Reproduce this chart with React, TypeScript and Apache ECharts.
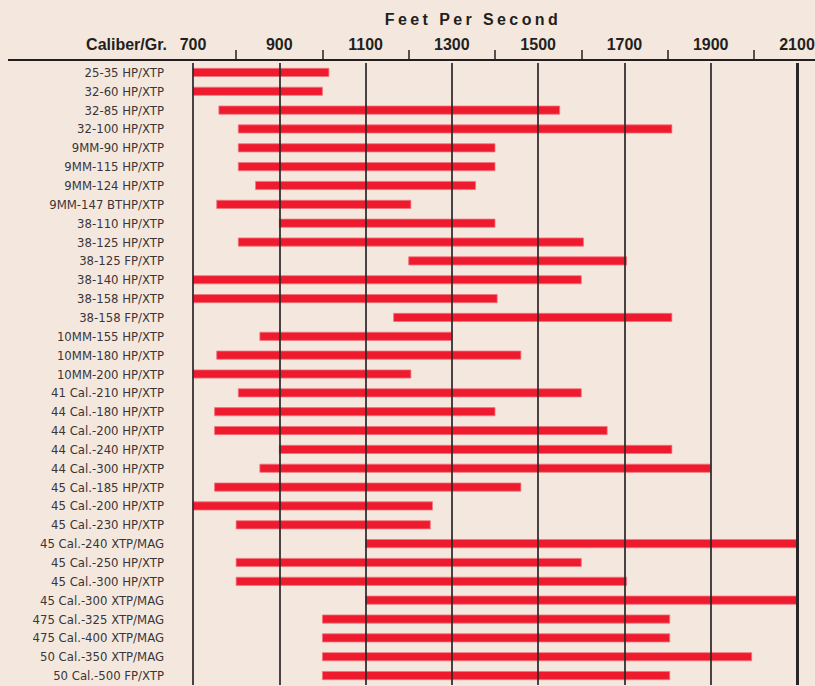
import React, { useEffect, useRef } from "react";
import * as echarts from "echarts";

const categories = [
  "25-35 HP/XTP",
  "32-60 HP/XTP",
  "32-85 HP/XTP",
  "32-100 HP/XTP",
  "9MM-90 HP/XTP",
  "9MM-115 HP/XTP",
  "9MM-124 HP/XTP",
  "9MM-147 BTHP/XTP",
  "38-110 HP/XTP",
  "38-125 HP/XTP",
  "38-125 FP/XTP",
  "38-140 HP/XTP",
  "38-158 HP/XTP",
  "38-158 FP/XTP",
  "10MM-155 HP/XTP",
  "10MM-180 HP/XTP",
  "10MM-200 HP/XTP",
  "41 Cal.-210 HP/XTP",
  "44 Cal.-180 HP/XTP",
  "44 Cal.-200 HP/XTP",
  "44 Cal.-240 HP/XTP",
  "44 Cal.-300 HP/XTP",
  "45 Cal.-185 HP/XTP",
  "45 Cal.-200 HP/XTP",
  "45 Cal.-230 HP/XTP",
  "45 Cal.-240 XTP/MAG",
  "45 Cal.-250 HP/XTP",
  "45 Cal.-300 HP/XTP",
  "45 Cal.-300 XTP/MAG",
  "475 Cal.-325 XTP/MAG",
  "475 Cal.-400 XTP/MAG",
  "50 Cal.-350 XTP/MAG",
  "50 Cal.-500 FP/XTP",
];

const minFps = [
  700, 700, 760, 805, 805, 805, 845, 755, 900, 805, 1200, 700, 700, 1165, 855,
  755, 700, 805, 750, 750, 900, 855, 750, 700, 800, 1100, 800, 800, 1100, 1000,
  1000, 1000, 1000,
];

const maxFps = [
  1015, 1000, 1550, 1810, 1400, 1400, 1355, 1205, 1400, 1605, 1705, 1600, 1405,
  1810, 1300, 1460, 1205, 1600, 1400, 1660, 1810, 1900, 1460, 1255, 1250, 2100,
  1600, 1705, 2100, 1805, 1805, 1995, 1805,
];

const axisTitle = "Feet Per Second";
const rowHeader = "Caliber/Gr.";
const axisMin = 700;
const axisMax = 2100;

const INK = "#231f20";
const ROW_FONT = "'DejaVu Sans Condensed', 'Liberation Sans Narrow', sans-serif";
const HEAD_FONT = "'Liberation Sans', Arial, sans-serif";

export default function App() {
  const ref = useRef<HTMLDivElement>(null);

  useEffect(() => {
    if (!ref.current) return;
    const chart = echarts.init(ref.current, undefined, { renderer: "svg" });
    const data = categories.map((c, i) => [i, minFps[i], maxFps[i]]);

    chart.setOption({
      animation: false,
      backgroundColor: "#F4E8DE",
      grid: {
        left: 193,
        right: 18,
        top: 63,
        height: 622,
        containLabel: false,
        outerBoundsMode: "none",
      },
      xAxis: {
        type: "value",
        position: "top",
        min: axisMin,
        max: axisMax,
        interval: 200,
        offset: 3,
        z: 5,
        axisLine: { show: false },
        axisTick: { show: false },
        minorTick: {
          show: true,
          splitNumber: 2,
          length: 10,
          lineStyle: { color: INK, width: 1.5 },
        },
        minorSplitLine: { show: false },
        splitLine: {
          show: true,
          showMinLine: true,
          showMaxLine: true,
          lineStyle: { color: "#2a2627", width: 1.7 },
        },
        axisLabel: {
          margin: 8,
          fontSize: 16,
          fontWeight: "bold",
          fontFamily: HEAD_FONT,
          color: INK,
          formatter: (v: number) => String(v),
        },
      },
      yAxis: {
        type: "category",
        data: categories,
        inverse: true,
        axisLine: { show: false },
        axisTick: { show: false },
        splitLine: { show: false },
        axisLabel: {
          margin: 29,
          fontSize: 13,
          fontFamily: ROW_FONT,
          color: "#3a3637",
        },
      },
      graphic: [
        {
          type: "line",
          shape: { x1: 8, y1: 60, x2: 815, y2: 60 },
          style: { stroke: INK, lineWidth: 2 },
          z: 10,
        },
        {
          type: "text",
          x: 167,
          y: 44,
          style: {
            text: rowHeader,
            textAlign: "right",
            textVerticalAlign: "middle",
            fontSize: 16,
            fontWeight: "bold",
            fontFamily: HEAD_FONT,
            fill: INK,
          },
        },
        {
          type: "text",
          x: 473,
          y: 19,
          style: {
            text: axisTitle,
            textAlign: "center",
            textVerticalAlign: "middle",
            fontSize: 16,
            fontWeight: "bold",
            fontFamily: "fpsTitle, " + HEAD_FONT,
            fill: INK,
          },
        },
      ],
      series: [
        {
          type: "custom",
          z: 2,
          encode: { x: [1, 2], y: 0 },
          data,
          renderItem: (params: any, api: any) => {
            const idx = api.value(0);
            const s = api.coord([api.value(1), idx]);
            const e = api.coord([api.value(2), idx]);
            const h = 8.2;
            return {
              type: "rect",
              shape: { x: s[0], y: s[1] - h / 2, width: e[0] - s[0], height: h },
              style: { fill: "#EE1B2F", stroke: "#F2737E", lineWidth: 0.8 },
            };
          },
          markLine: {
            silent: true,
            symbol: "none",
            z: 6,
            label: { show: false },
            lineStyle: { color: "#2a2627", width: 3, type: "solid" },
            data: [{ xAxis: axisMax }],
          },
        },
      ],
    });

    return () => chart.dispose();
  }, []);

  return (
    <>
      <style>{`text[style*="fpsTitle"] { letter-spacing: 3.4px; }`}</style>
      <div
        ref={ref}
        style={{ position: "absolute", left: 0, top: 0, width: 815, height: 686 }}
      />
    </>
  );
}
